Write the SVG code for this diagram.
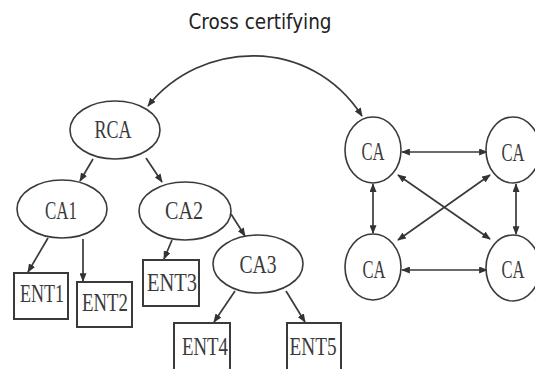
<svg xmlns="http://www.w3.org/2000/svg" width="535" height="369" viewBox="0 0 535 369">
<style>
.n{fill:#fff;stroke:#3a3a3a;stroke-width:1.6}
.b{fill:#fff;stroke:#3a3a3a;stroke-width:2}
.t{font-family:"Liberation Serif","Times New Roman",serif;font-size:25px;fill:#3a3a3a;text-anchor:middle}
.c{fill:none;stroke:#3a3a3a;stroke-width:1.7}
.ttl{font-family:"DejaVu Sans Condensed","DejaVu Sans",sans-serif;font-size:22px;fill:#222;text-anchor:middle}
</style>
<defs>
<marker id="ah" viewBox="0 0 10 8" refX="9" refY="4" markerWidth="9" markerHeight="7" markerUnits="userSpaceOnUse" orient="auto-start-reverse">
<path d="M0,0 L10,4 L0,8 z" fill="#333"/>
</marker>
</defs>
<rect width="535" height="369" fill="#fff"/>
<text class="ttl" x="260" y="29" textLength="143" lengthAdjust="spacingAndGlyphs">Cross certifying</text>
<g id="connectors">
<path class="c" d="M362,116 C310,35 200,40 148,106" marker-start="url(#ah)" marker-end="url(#ah)"/>
<line class="c" x1="93" y1="159" x2="80" y2="181" marker-end="url(#ah)"/>
<line class="c" x1="146" y1="158" x2="162" y2="182" marker-end="url(#ah)"/>
<line class="c" x1="48" y1="238" x2="28" y2="272" marker-end="url(#ah)"/>
<line class="c" x1="83" y1="239" x2="83" y2="281" marker-end="url(#ah)"/>
<line class="c" x1="172" y1="240" x2="164" y2="259" marker-end="url(#ah)"/>
<line class="c" x1="231" y1="214" x2="245" y2="236" marker-end="url(#ah)"/>
<line class="c" x1="235" y1="291" x2="214" y2="322" marker-end="url(#ah)"/>
<line class="c" x1="286" y1="291" x2="305" y2="322" marker-end="url(#ah)"/>
<line class="c" x1="402" y1="152" x2="487" y2="152" marker-start="url(#ah)" marker-end="url(#ah)"/>
<line class="c" x1="402" y1="270" x2="487" y2="270" marker-start="url(#ah)" marker-end="url(#ah)"/>
<line class="c" x1="373" y1="184" x2="373" y2="233" marker-start="url(#ah)" marker-end="url(#ah)"/>
<line class="c" x1="516" y1="184" x2="516" y2="234" marker-start="url(#ah)" marker-end="url(#ah)"/>
<line class="c" x1="398" y1="175" x2="490" y2="239" marker-start="url(#ah)" marker-end="url(#ah)"/>
<line class="c" x1="490" y1="175" x2="398" y2="240" marker-start="url(#ah)" marker-end="url(#ah)"/>
</g>
<g id="RCA"><ellipse class="n" cx="115" cy="130" rx="45" ry="29"/><text class="t" x="113" y="138" textLength="37" lengthAdjust="spacingAndGlyphs">RCA</text></g>
<g id="CA1"><ellipse class="n" cx="62" cy="209" rx="45" ry="29"/><text class="t" x="61" y="219" textLength="32" lengthAdjust="spacingAndGlyphs">CA1</text></g>
<g id="CA2"><ellipse class="n" cx="185" cy="211" rx="46" ry="29"/><text class="t" x="184" y="219" textLength="38" lengthAdjust="spacingAndGlyphs">CA2</text></g>
<g id="CA3"><ellipse class="n" cx="258" cy="264" rx="45" ry="29"/><text class="t" x="258" y="273" textLength="37" lengthAdjust="spacingAndGlyphs">CA3</text></g>
<g id="ENT1"><rect class="b" x="14" y="273" width="54" height="46"/><text class="t" x="42" y="302" textLength="44" lengthAdjust="spacingAndGlyphs">ENT1</text></g>
<g id="ENT2"><rect class="b" x="77" y="282" width="55" height="45"/><text class="t" x="105" y="311" textLength="46" lengthAdjust="spacingAndGlyphs">ENT2</text></g>
<g id="ENT3"><rect class="b" x="143" y="260" width="56" height="46"/><text class="t" x="172" y="291" textLength="50" lengthAdjust="spacingAndGlyphs">ENT3</text></g>
<g id="ENT4"><rect class="b" x="174" y="323" width="56" height="48"/><text class="t" x="205" y="355" textLength="46" lengthAdjust="spacingAndGlyphs">ENT4</text></g>
<g id="ENT5"><rect class="b" x="287" y="323" width="54" height="48"/><text class="t" x="313" y="355" textLength="47" lengthAdjust="spacingAndGlyphs">ENT5</text></g>
<g id="CA-TL"><ellipse class="n" cx="373" cy="150" rx="28" ry="33"/><text class="t" x="373" y="160" textLength="23" lengthAdjust="spacingAndGlyphs">CA</text></g>
<g id="CA-TR"><ellipse class="n" cx="513" cy="150" rx="27" ry="33"/><text class="t" x="513" y="161" textLength="23" lengthAdjust="spacingAndGlyphs">CA</text></g>
<g id="CA-BL"><ellipse class="n" cx="373" cy="267" rx="28" ry="33"/><text class="t" x="374" y="278" textLength="23" lengthAdjust="spacingAndGlyphs">CA</text></g>
<g id="CA-BR"><ellipse class="n" cx="513" cy="268" rx="27" ry="33"/><text class="t" x="513" y="278" textLength="23" lengthAdjust="spacingAndGlyphs">CA</text></g>
</svg>
